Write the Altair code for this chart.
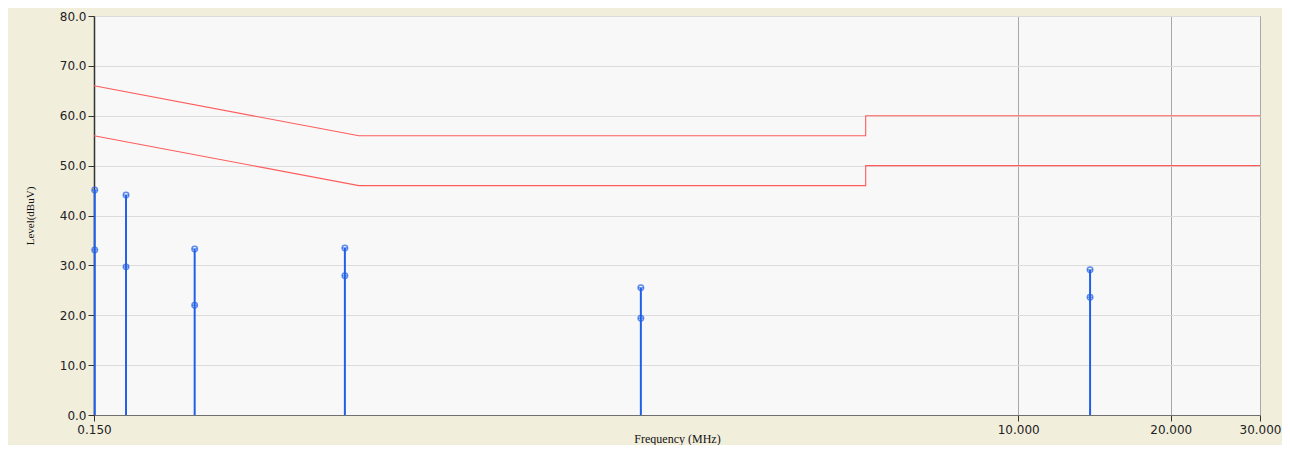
import altair as alt
import pandas as pd

# Limit lines (CISPR-style)
limit_freq = [0.15, 0.5, 5.0, 5.0, 30.0]
limit_qp = [66.0, 56.0, 56.0, 60.0, 60.0]
limit_av = [56.0, 46.0, 46.0, 50.0, 50.0]

# Measured points
meas_freq = [0.1505, 0.1735, 0.237, 0.469, 1.80, 13.86]
meas_qp = [45.1, 44.1, 33.3, 33.5, 25.5, 29.1]
meas_av = [33.1, 29.7, 22.0, 27.9, 19.4, 23.6]

x_ticks = [0.15, 10, 20, 30]
y_ticks = [0, 10, 20, 30, 40, 50, 60, 70, 80]

lim_rows = []
for i, f in enumerate(limit_freq):
    lim_rows.append({"f": f, "v": limit_qp[i], "s": "QP", "o": i})
    lim_rows.append({"f": f, "v": limit_av[i], "s": "AV", "o": i})
lim_df = pd.DataFrame(lim_rows)

meas_df = pd.DataFrame({"f": meas_freq, "qp": meas_qp, "av": meas_av, "zero": [0] * len(meas_freq)})
pts_df = pd.DataFrame(
    [{"f": f, "v": v} for f, v in zip(meas_freq, meas_qp)]
    + [{"f": f, "v": v} for f, v in zip(meas_freq, meas_av)]
)

xscale = alt.Scale(type="log", domain=[0.15, 30], nice=False)
yscale = alt.Scale(domain=[0, 80], nice=False)

xaxis = alt.Axis(
    title="Frequency (MHz)", values=x_ticks, format=".3f", grid=True,
    gridColor="#A8A8A8", gridWidth=1, domainColor="#707070",
    tickColor="#333", tickSize=6, labelFont="DejaVu Sans", labelFontSize=12,
    labelColor="#222", titleFont="Liberation Serif", titleFontSize=12,
    titleFontWeight="normal", titleColor="#111", titleY=27,
    titleBaseline="alphabetic", labelPadding=3, labelFlush=False,
)
yaxis = alt.Axis(
    title="Level(dBuV)", values=y_ticks, format=".1f", grid=True,
    gridColor="#DCDCDC", gridWidth=1, domainColor="#333", domainWidth=1.5,
    tickColor="#333", tickSize=6, labelFont="DejaVu Sans", labelFontSize=12,
    labelColor="#222", titleFont="Liberation Serif", titleFontSize=11,
    titleFontWeight="normal", titleColor="#111", titlePadding=24,
)

limits = alt.Chart(lim_df).mark_line(color="#FF5C5C", strokeWidth=1.1).encode(
    x=alt.X("f:Q", scale=xscale, axis=xaxis),
    y=alt.Y("v:Q", scale=yscale, axis=yaxis),
    detail="s:N",
    order="o:Q",
)

stems = alt.Chart(meas_df).mark_rule(color="#2060E8", strokeWidth=2).encode(
    x=alt.X("f:Q", scale=xscale),
    y=alt.Y("zero:Q", scale=yscale),
    y2="qp:Q",
)

circles = alt.Chart(pts_df).mark_point(
    shape="circle", filled=False, color="#2060E8", size=30, strokeWidth=1.5
).encode(
    x=alt.X("f:Q", scale=xscale),
    y=alt.Y("v:Q", scale=yscale),
)

bars = alt.Chart(pts_df).mark_point(
    shape="M-1,0L1,0", filled=False, color="#2060E8", size=30, strokeWidth=1.3
).encode(
    x=alt.X("f:Q", scale=xscale),
    y=alt.Y("v:Q", scale=yscale),
)

chart = (
    alt.layer(limits, stems, circles, bars)
    .properties(
        width=1166,
        height=399,
        autosize=alt.AutoSizeParams(type="none"),
        padding={"left": 86, "top": 8, "right": 22, "bottom": 30},
        background="#F1EEDC",
    )
    .configure_view(fill="#F8F8F8", stroke="#555555", strokeWidth=1)
)

chart.save("out.html", embed_options={"renderer": "svg", "actions": False})
